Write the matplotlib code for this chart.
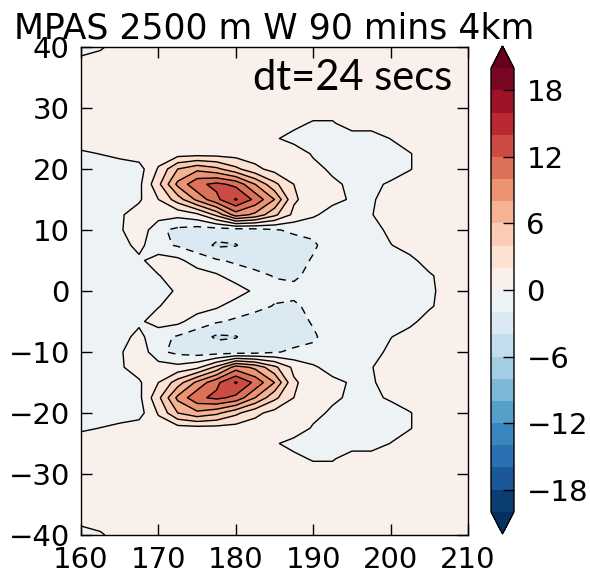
import numpy as np
import matplotlib
matplotlib.use("Agg")
import matplotlib.pyplot as plt

plt.rcParams['font.family'] = ['DejaVu Sans']
plt.rcParams['lines.dashed_pattern'] = [5.5, 4.5]

title = "MPAS 2500 m W 90 mins 4km"
note = "dt=24 secs"

lon = [160, 162.5, 165, 167.5, 170, 172.5, 175, 177.5, 180, 182.5, 185,
       187.5, 190, 192.5, 195, 197.5, 200, 202.5, 205, 207.5, 210]
lat = [40, 37.5, 35, 32.5, 30, 27.5, 25, 22.5, 20, 17.5, 15, 12.5, 10, 7.5,
       5, 2.5, 0, -2.5, -5, -7.5, -10, -12.5, -15, -17.5, -20, -22.5, -25,
       -27.5, -30, -32.5, -35, -37.5, -40]

# vertical velocity W, one row per latitude (north to south)
w_rows = [
    [-1, -0.3, 1, 1, 1, 1, 1, 1, 1, 1, 1, 1, 1, 1, 1, 1, 1, 1, 1, 1, 1],
    [0.7, 1, 1, 1, 1, 1, 1, 1, 1, 1, 1, 1, 1, 1, 1, 1, 1, 1, 1, 1, 1],
    [1, 1, 1, 1, 1, 1, 1, 1, 1, 1, 1, 1, 1, 1, 1, 1, 1, 1, 1, 1, 1],
    [1, 1, 1, 1, 1, 1, 1, 1, 1, 1, 1, 1, 1, 1, 1, 1, 1, 1, 1, 1, 1],
    [1, 1, 1, 1, 1, 1, 1, 1, 1, 1, 1, 1, 1, 1, 1, 1, 1, 1, 1, 1, 1],
    [1, 1, 1, 1, 1, 1, 1, 1, 1, 1, 1, 0.5, -0.2, -0.2, 1, 1, 1, 1, 1, 1, 1],
    [1, 1, 1, 1, 1, 1, 1, 1, 1, 1, 0.2, -0.6, -1, -1, -1, -1, 0.05, 1, 1, 1, 1],
    [-0.3, 0.04, 0.5, 1, 1, 1.1, 1.2, 1.2, 1.1, 1, 1, 1, -0.2, -1, -1, -1, -1, -0.1, 1, 1, 1],
    [-1, -1, -1, -0.8, 2.2, 6, 7.5, 6.5, 4.5, 2.5, 1.3, 1, 0.5, -0.3, -1, -1, -1, -0.1, 1, 1, 1],
    [-1, -1, -1, -0.5, 3.5, 8.5, 11.5, 12.5, 11.5, 8, 4.5, 2, 1, 0.3, -0.3, -0.5, 0.3, 1, 1, 1, 1],
    [-1, -1, -1, -0.3, 2, 5, 8.5, 11.5, 14.2, 11.5, 8, 2.3, 1, 0.5, -0.2, -0.3, 1, 1, 1, 1, 1],
    [-1, -1, -0.3, 1, 1, 0.6, 1.5, 4.5, 9, 7.5, 4.5, 1.5, 0.3, -0.8, -1, -0.1, 1, 1, 1, 1, 1],
    [-1, -1, -0.3, 1.5, -1.6, -2.5, -3, -3, -3, -2.8, -2.2, -1.6, -1.5, -1, -1, -1, 0.6, 1, 1, 1, 1],
    [-1, -1, -0.8, 0.6, -1.5, -2.2, -3, -4.3, -4.1, -3, -3, -3, -2.3, -1, -1, -1, -0.1, 1, 1, 1, 1],
    [-1, -1, -1, -0.4, 1, 0.5, -1, -1.8, -2.3, -2.8, -3, -2.8, -1.8, -1, -1, -1, -1, -0.6, 1, 1, 1],
    [-1, -1, -1, -1, -0.1, 1, 1, 0.3, -1, -1.5, -2.1, -2.3, -1.5, -1, -1, -1, -1, -1, -0.3, 1, 1],
    [-1, -1, -1, -1, -1.5, 0.5, 1, 1, 1, -0.4, -1.5, -1.5, -1.2, -1, -1, -1, -1, -1, -0.5, 1, 1],
    [-1, -1, -1, -1, -0.1, 1, 1, 0.3, -1, -1.5, -2.1, -2.3, -1.5, -1, -1, -1, -1, -1, -0.3, 1, 1],
    [-1, -1, -1, -0.4, 1, 0.5, -1, -1.8, -2.3, -2.8, -3, -2.8, -1.8, -1, -1, -1, -1, -0.6, 1, 1, 1],
    [-1, -1, -0.8, 0.6, -1.5, -2.2, -3, -4.3, -4.1, -3, -3, -3, -2.3, -1, -1, -1, -0.1, 1, 1, 1, 1],
    [-1, -1, -0.3, 1.5, -1.6, -2.5, -3, -3, -3, -2.8, -2.2, -1.6, -1.5, -1, -1, -1, 0.6, 1, 1, 1, 1],
    [-1, -1, -0.3, 1, 1, 0.6, 1.5, 4.5, 9, 7.5, 4.5, 1.5, 0.3, -0.8, -1, -0.1, 1, 1, 1, 1, 1],
    [-1, -1, -1, -0.3, 2, 5, 8.5, 11.5, 14.2, 11.5, 8, 2.3, 1, 0.5, -0.2, -0.3, 1, 1, 1, 1, 1],
    [-1, -1, -1, -0.5, 3.5, 8.5, 11.5, 12.5, 11.5, 8, 4.5, 2, 1, 0.3, -0.3, -0.5, 0.3, 1, 1, 1, 1],
    [-1, -1, -1, -0.8, 2.2, 6, 7.5, 6.5, 4.5, 2.5, 1.3, 1, 0.5, -0.3, -1, -1, -1, -0.1, 1, 1, 1],
    [-0.3, 0.04, 0.5, 1, 1, 1.1, 1.2, 1.2, 1.1, 1, 1, 1, -0.2, -1, -1, -1, -1, -0.1, 1, 1, 1],
    [1, 1, 1, 1, 1, 1, 1, 1, 1, 1, 0.2, -0.6, -1, -1, -1, -1, 0.05, 1, 1, 1, 1],
    [1, 1, 1, 1, 1, 1, 1, 1, 1, 1, 1, 0.5, -0.2, -0.2, 1, 1, 1, 1, 1, 1, 1],
    [1, 1, 1, 1, 1, 1, 1, 1, 1, 1, 1, 1, 1, 1, 1, 1, 1, 1, 1, 1, 1],
    [1, 1, 1, 1, 1, 1, 1, 1, 1, 1, 1, 1, 1, 1, 1, 1, 1, 1, 1, 1, 1],
    [1, 1, 1, 1, 1, 1, 1, 1, 1, 1, 1, 1, 1, 1, 1, 1, 1, 1, 1, 1, 1],
    [0.7, 1, 1, 1, 1, 1, 1, 1, 1, 1, 1, 1, 1, 1, 1, 1, 1, 1, 1, 1, 1],
    [-1, -0.3, 1, 1, 1, 1, 1, 1, 1, 1, 1, 1, 1, 1, 1, 1, 1, 1, 1, 1, 1],
]

levels = list(range(-20, 21, 2))
cbar_ticks = [-18, -12, -6, 0, 6, 12, 18]
xticks = [160, 170, 180, 190, 200, 210]
yticks = [-40, -30, -20, -10, 0, 10, 20, 30, 40]

W = np.array(w_rows)

fig = plt.figure(figsize=(5.9, 5.74), dpi=100)
ax = fig.add_axes([81 / 590, 39 / 574, 387 / 590, 488 / 574])
cf = ax.contourf(lon, lat, W, levels=levels, cmap='RdBu_r', extend='both')
ax.contour(lon, lat, W, levels=levels, colors='k', linewidths=1.0,
           negative_linestyles='dashed')
ax.set_xlim(160, 210)
ax.set_ylim(-40, 40)
ax.set_xticks(xticks)
ax.set_yticks(yticks)
ax.tick_params(direction='in', top=True, right=True, length=8, width=1,
               labelsize=21, pad=8)
for s in ax.spines.values():
    s.set_linewidth(1.0)
ax.set_title(title, fontsize=25, pad=6)
ax.text((452 - 81) / 387, (535 - 90) / 488, note, transform=ax.transAxes,
        ha='right', va='baseline', fontsize=30, family=['Lato', 'DejaVu Sans'])

cax = fig.add_axes([491 / 590, 40 / 574, 23 / 590, 488 / 574])
cb = fig.colorbar(cf, cax=cax, ticks=cbar_ticks)
cb.ax.tick_params(direction='in', length=8, width=1, labelsize=21, pad=9)
cb.outline.set_linewidth(1.0)

fig.savefig("out.png", dpi=100)
